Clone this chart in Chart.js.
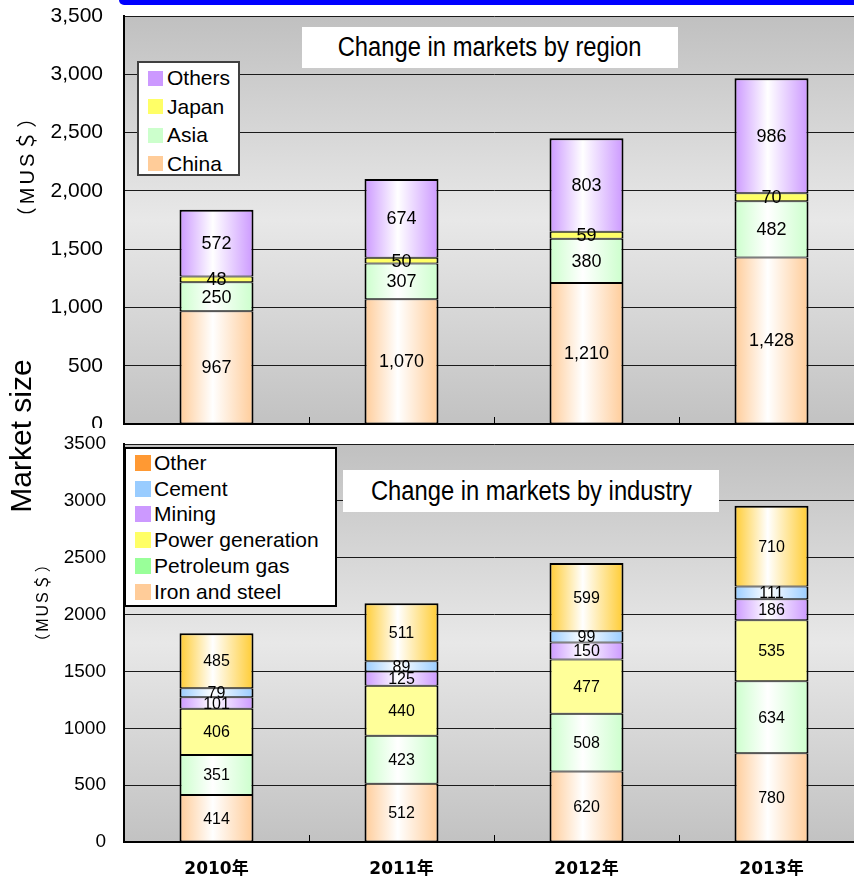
<!DOCTYPE html>
<html>
<head>
<meta charset="utf-8">
<script src="https://cdn.jsdelivr.net/npm/chart.js@4.4.1/dist/chart.umd.min.js"></script>
<style>
  body { margin: 0; width: 854px; height: 878px; overflow: hidden; background: #fff; font-family: "Liberation Sans", Arial, sans-serif; }
  #wrap { position: relative; width: 864px; height: 878px; }
  canvas { position: absolute; left: 0; }
  .rot { position: absolute; white-space: nowrap; transform: translate(-50%, -50%) rotate(-90deg); color: #000; }
  .title { position: absolute; background: #fff; text-align: center; overflow: visible; }
  .title span { display: inline-block; font-size: 27px; transform: scaleX(0.88); white-space: nowrap; }
  .legend { position: absolute; background: #fff; box-sizing: border-box; font-size: 21px; }
  .legend div { display: flex; align-items: center; white-space: nowrap; }
  .legend i { display: inline-block; flex: none; }
</style>
</head>
<body>
<div id="wrap">
  <div style="position:absolute;left:119px;top:0;width:745px;height:5px;background:#0000ff;border-bottom-left-radius:6px"></div>
  <canvas id="top" width="864" height="428" style="top:0"></canvas>
  <canvas id="bottom" width="864" height="450" style="top:428px"></canvas>
  <div class="title" style="left:302px;top:27px;width:376px;height:41px;line-height:41px"><span>Change in markets by region</span></div>
  <div class="title" style="left:343px;top:470px;width:376px;height:42px;line-height:42px"><span>Change in markets by industry</span></div>
  <div id="legTop" class="legend" style="left:137px;top:61px;width:103px;height:115px;border:2px solid #404040;padding:1px 0 0 9px"></div>
  <div id="legBottom" class="legend" style="left:124px;top:447px;width:213px;height:160px;border:2px solid #000;padding:1px 0 0 9px"></div>
  <div class="rot" style="left:21px;top:436px;font-size:30px">Market size</div>
  <div class="rot" style="left:25px;top:166px;font-size:20px;letter-spacing:3px;font-family:'Liberation Sans','Noto Sans CJK JP',sans-serif">（MUS＄）</div>
  <div class="rot" style="left:41px;top:602px;font-size:16px;letter-spacing:2px;font-family:'Liberation Sans','Noto Sans CJK JP',sans-serif">（MUS＄）</div>
</div>
<script>
// data
const years = ['2010年', '2011年', '2012年', '2013年'];

const china = [967, 1070, 1210, 1428];
const asia = [250, 307, 380, 482];
const japan = [48, 50, 59, 70];
const others = [572, 674, 803, 986];

const ironSteel = [414, 512, 620, 780];
const petroleumGas = [351, 423, 508, 634];
const powerGen = [406, 440, 477, 535];
const mining = [101, 125, 150, 186];
const cement = [79, 89, 99, 111];
const otherInd = [485, 511, 599, 710];

const regionTicks = ['0', '500', '1,000', '1,500', '2,000', '2,500', '3,000', '3,500'];
const industryTicks = ['0', '500', '1000', '1500', '2000', '2500', '3000', '3500'];

const BAR_FRAC = 0.4;

// horizontal gradient: coloured edges, white middle
function barFill(edge) {
    return function(c) {
        const chart = c.chart;
        const xs = chart.scales.x;
        if (!xs || c.dataIndex === undefined || !xs.width) return edge;
        const mid = xs.getPixelForValue(c.dataIndex);
        const w = xs.width / years.length * BAR_FRAC;
        const g = chart.ctx.createLinearGradient(mid - w / 2, 0, mid + w / 2, 0);
        g.addColorStop(0, edge);
        g.addColorStop(0.45, '#ffffff');
        g.addColorStop(1, edge);
        return g;
    };
}

function ds(label, data, fill, isTop) {
    return {
        label: label,
        data: data,
        backgroundColor: fill,
        borderColor: '#000',
        borderWidth: { left: 2, right: 2, top: isTop ? 2 : 1, bottom: 1 },
        borderSkipped: false,
        barPercentage: BAR_FRAC,
        categoryPercentage: 1
    };
}

const plotDeco = {
    id: 'plotDeco',
    beforeDraw(chart) {
        const a = chart.chartArea;
        const ctx = chart.ctx;
        const g = ctx.createLinearGradient(0, a.top, 0, a.bottom);
        g.addColorStop(0, '#c0c0c0');
        g.addColorStop(0.5, '#e8e8e8');
        g.addColorStop(1, '#c2c2c2');
        ctx.save();
        ctx.fillStyle = g;
        ctx.fillRect(a.left, a.top, chart.width - a.left, a.bottom - a.top);
        ctx.restore();
    },
    beforeDatasetsDraw(chart) {
        // short marks between categories on the bottom edge
        const a = chart.chartArea;
        const ctx = chart.ctx;
        const step = (a.right - a.left) / years.length;
        ctx.save();
        ctx.strokeStyle = '#000';
        ctx.lineWidth = 1;
        for (let i = 1; i < years.length; i++) {
            const x = Math.round(a.left + step * i) + 0.5;
            ctx.beginPath();
            ctx.moveTo(x, a.bottom);
            ctx.lineTo(x, a.bottom - 7);
            ctx.stroke();
        }
        ctx.restore();
    }
};

const valueLabels = {
    id: 'valueLabels',
    afterDatasetsDraw(chart, args, opts) {
        const ctx = chart.ctx;
        ctx.save();
        ctx.font = opts.font;
        ctx.fillStyle = '#000';
        ctx.textAlign = 'center';
        ctx.textBaseline = 'middle';
        chart.data.datasets.forEach(function(d, i) {
            chart.getDatasetMeta(i).data.forEach(function(el, j) {
                const y = (el.y + el.base) / 2;
                ctx.fillText(d.data[j].toLocaleString('en-US'), el.x, y + 1);
            });
        });
        ctx.restore();
    }
};

function makeChart(id, datasets, ticks, opt) {
    return new Chart(document.getElementById(id), {
        type: 'bar',
        data: { labels: years, datasets: datasets },
        plugins: [plotDeco, valueLabels],
        options: {
            responsive: false,
            animation: false,
            events: [],
            layout: { padding: { top: opt.padTop, left: 0, right: 0, bottom: 0 } },
            plugins: {
                legend: { display: false },
                tooltip: { enabled: false },
                valueLabels: { font: opt.labelFont }
            },
            scales: {
                x: {
                    stacked: true,
                    grid: { display: false },
                    border: { display: true, color: '#000', width: 2 },
                    ticks: {
                        display: opt.showX,
                        color: '#000',
                        padding: 9,
                        font: { family: 'DejaVu Sans, Noto Sans CJK JP', size: 17, weight: 'bold' }
                    },
                    afterFit: function(s) {
                        s.height = opt.xHeight;
                        s.paddingLeft = 0;
                        s.paddingRight = 0;
                    }
                },
                y: {
                    stacked: true,
                    min: 0,
                    max: 3500,
                    ticks: {
                        stepSize: 500,
                        color: '#000',
                        padding: opt.tickPad,
                        font: { family: 'Liberation Sans, Arial', size: opt.tickSize },
                        callback: function(v, i) { return ticks[i]; }
                    },
                    grid: { color: '#1a1a1a', lineWidth: 1, drawTicks: false },
                    border: { display: true, color: '#000', width: 2 },
                    afterFit: function(s) {
                        s.width = 124;
                        s.paddingTop = 0;
                        s.paddingBottom = 0;
                    }
                }
            }
        }
    });
}

makeChart('top', [
    ds('China', china, barFill('#ffcc99')),
    ds('Asia', asia, barFill('#ccffcc')),
    ds('Japan', japan, '#ffff66'),
    ds('Others', others, barFill('#cc99ff'), true)
], regionTicks, { padTop: 16, xHeight: 4, showX: false, tickPad: 21, tickSize: 21, labelFont: '18px "Liberation Sans", Arial' });

makeChart('bottom', [
    ds('Iron and steel', ironSteel, barFill('#ffcc99')),
    ds('Petroleum gas', petroleumGas, barFill('#ccffcc')),
    ds('Power generation', powerGen, '#ffff99'),
    ds('Mining', mining, barFill('#cc99ff')),
    ds('Cement', cement, barFill('#99ccff')),
    ds('Other', otherInd, barFill('#ffcc33'), true)
], industryTicks, { padTop: 16, xHeight: 36, showX: true, tickPad: 18, tickSize: 19, labelFont: '16px "Liberation Sans", Arial' });

// legends (top of stack listed first, as in the picture)
const regionNames = ['Others', 'Japan', 'Asia', 'China'];
const regionSwatch = ['#cc99ff', '#ffff66', '#ccffcc', '#ffcc99'];
const industryNames = ['Other', 'Cement', 'Mining', 'Power generation', 'Petroleum gas', 'Iron and steel'];
const industrySwatch = ['#ff9933', '#99ccff', '#cc99ff', '#ffff66', '#99ff99', '#ffcc99'];

function fillLegend(id, names, colors, rowH, sw, gap) {
    const box = document.getElementById(id);
    names.forEach(function(n, i) {
        const row = document.createElement('div');
        row.style.height = rowH + 'px';
        row.innerHTML = '<i style="width:' + sw + 'px;height:' + sw + 'px;background:' + colors[i] +
            ';margin-right:' + gap + 'px"></i><span>' + n + '</span>';
        box.appendChild(row);
    });
}
fillLegend('legTop', regionNames, regionSwatch, 28.5, 15, 4);
fillLegend('legBottom', industryNames, industrySwatch, 25.8, 16, 3);
</script>
</body>
</html>
